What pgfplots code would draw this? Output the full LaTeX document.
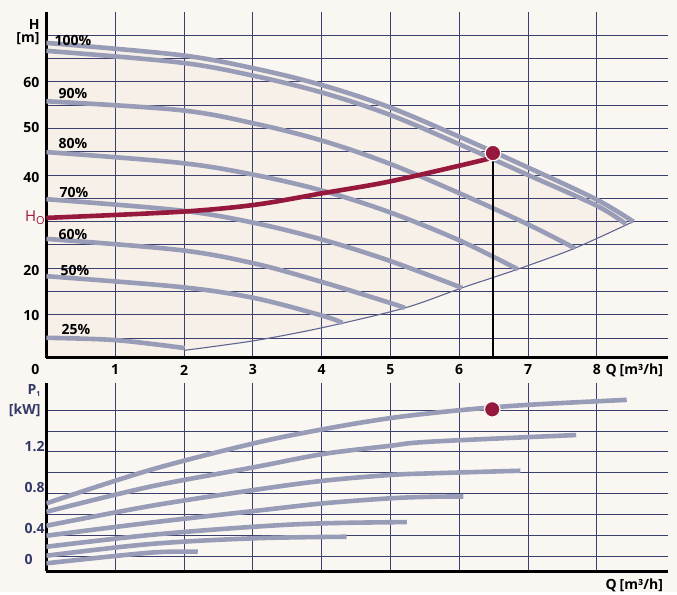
\documentclass[border=0pt]{standalone}
\usepackage{fontspec}
\setmainfont{Open Sans}
\usepackage{pgfplots}
\pgfplotsset{compat=1.18}
\definecolor{bgc}{RGB}{250,247,243}
\definecolor{regc}{RGB}{247,240,233}
\definecolor{crv}{RGB}{152,156,182}
\definecolor{grd}{RGB}{58,63,110}
\definecolor{hred}{RGB}{150,24,60}
\definecolor{navy}{RGB}{52,56,102}
\definecolor{sysc}{RGB}{95,100,145}
\newcommand{\tlab}{\fontsize{14}{16}\selectfont\bfseries}
\pgfplotsset{
  baseaxis/.style={
    anchor=south west,
    x=68.8pt,
    xmin=0, xmax=9.03,
  },
  topaxis/.style={baseaxis, at={(46.4pt,234pt)}, y=4.666pt, ymin=0.77, ymax=75},
  botaxis/.style={baseaxis, at={(46.4pt,21pt)}, y=104.1pt, ymin=0.056, ymax=1.86},
  pumpaxis/.style={
    axis x line=bottom, axis y line=left,
    axis line style={-, black, line width=3pt},
    xtick={1,2,3,4,5,6,7,8},
    xticklabels={}, yticklabels={},
    major tick length=0pt,
    grid=major, major grid style={grd, line width=0.9pt},
  },
  crvline/.style={crv, line width=4.6pt, smooth, tension=0.55},
}
\begin{document}
\begin{tikzpicture}[x=1pt,y=1pt]
\fill[bgc] (0,0) rectangle (677,592);
% ---------------- shaded operating region (below the grid) ----------------
\begin{axis}[topaxis, hide axis]
\addplot[fill=regc, draw=none] coordinates {
 (0,68.3) (1.94,65.7) (3.03,62.9) (4.02,59.3) (4.99,54.5) (6.0,48.2) (7.0,41.8) (7.66,37.5) (8.0,34.7) (8.53,30.0)
 (7.68,24.3) (6.85,19.8) (6.04,15.8) (5.21,11.5) (4.3,8.3) (4.02,7.3) (3.03,4.5) (2.0,2.4)
 (2.0,0.77) (0,0.77)} -- cycle;
\end{axis}
% ---------------- top chart: H over Q ----------------
\begin{axis}[topaxis, pumpaxis,
  ytick={5,10,15,20,25,30,35,40,45,50,55,60,65,70},
]
% system (minimum) curve
\addplot[sysc, line width=1.1pt, smooth] coordinates {
 (2.0,2.4) (3.03,4.5) (4.02,7.3) (5.21,11.5) (6.04,15.8) (6.85,19.8) (7.68,24.3) (8.53,30.0)};
% 100 % (two lines)
\addplot[crvline] coordinates {
 (0,68.3) (1.94,65.7) (3.03,62.8) (4.02,59.2) (4.99,54.5) (6.0,48.2) (7.0,41.6) (8.0,34.7) (8.53,30.0)};
\addplot[crvline] coordinates {
 (0,66.6) (1.94,64.1) (3.03,61.2) (4.02,57.6) (4.99,52.9) (6.0,46.6) (7.0,40.0) (8.0,33.4) (8.42,29.5)};
% 90 %
\addplot[crvline] coordinates {
 (0,55.8) (1.94,53.9) (3.03,51.0) (4.02,47.3) (4.99,42.4) (6.0,36.1) (7.0,29.4) (7.68,24.3)};
% 80 %
\addplot[crvline] coordinates {
 (0,44.9) (1.94,42.6) (3.03,40.0) (4.02,36.6) (4.99,32.0) (6.0,26.0) (6.85,19.8)};
% 70 %
\addplot[crvline] coordinates {
 (0,34.8) (1.94,32.4) (3.03,29.7) (4.02,26.1) (4.99,21.6) (6.04,15.8)};
% 60 %
\addplot[crvline] coordinates {
 (0,26.3) (1.94,23.9) (3.03,21.0) (4.02,17.0) (4.99,12.6) (5.21,11.5)};
% 50 %
\addplot[crvline] coordinates {
 (0,18.3) (1.94,16.0) (3.03,13.6) (4.02,9.8) (4.3,8.3)};
% 25 %
\addplot[crvline] coordinates {
 (0,5.1) (1.01,4.6) (2.01,2.9)};
% H_O curve
\addplot[hred, line width=4.6pt, smooth, tension=0.5] coordinates {
 (0,30.8) (1.94,32.1) (3.03,33.6) (4.02,36.1) (4.99,38.6) (6.35,43.2) (6.49,44.0)};
% drop line
\addplot[black, line width=1.2pt] coordinates {(6.49,44.7) (6.49,0.77)};
\addplot[only marks, mark=*, mark size=7.8pt, mark options={fill=hred, draw=bgc, line width=1.3pt}] coordinates {(6.49,44.7)};
\end{axis}
% ---------------- bottom chart: P1 over Q ----------------
\begin{axis}[botaxis, pumpaxis,
  ytick={0.2,0.4,0.6,0.8,1.0,1.2,1.4,1.6},
]
\addplot[crvline] coordinates {
 (0,0.706) (1.506,1.026) (3.0,1.28) (4.0,1.415) (5.0,1.525) (6.0,1.60) (7.0,1.652) (8.435,1.700)};
\addplot[crvline] coordinates {
 (0,0.625) (1.506,0.866) (3.013,1.052) (4.025,1.180) (4.99,1.258) (5.576,1.298) (7.70,1.362)};
\addplot[crvline] coordinates {
 (0,0.491) (1.506,0.680) (3.013,0.834) (4.025,0.923) (4.99,0.978) (5.576,0.994) (6.89,1.019)};
\addplot[crvline] coordinates {
 (0,0.395) (1.506,0.520) (3.013,0.632) (4.025,0.706) (4.99,0.754) (5.576,0.769) (6.06,0.772)};
\addplot[crvline] coordinates {
 (0,0.289) (1.506,0.402) (3.013,0.481) (4.025,0.514) (5.24,0.526)};
\addplot[crvline] coordinates {
 (0,0.203) (1.506,0.315) (3.013,0.370) (4.365,0.385)};
\addplot[crvline] coordinates {
 (0,0.130) (1.506,0.232) (2.2,0.241)};
\addplot[only marks, mark=*, mark size=7.8pt, mark options={fill=hred, draw=bgc, line width=1.3pt}] coordinates {(6.48,1.609)};
\end{axis}
% ---------------- labels ----------------
\begin{scope}[font=\tlab]
\node[anchor=east] at (43,567) {H};
\node[anchor=east] at (43,553) {[m]};
\node[anchor=east] at (43,510) {60};
\node[anchor=east] at (43,465) {50};
\node[anchor=east] at (43,415) {40};
\node[anchor=east] at (43,322) {20};
\node[anchor=east] at (43,277) {10};
\node[anchor=east] at (43,223) {0};
\foreach \q in {1,...,8} {\node at ({46.4+68.8*\q},222) {\q};}
\node[anchor=west] at (602,222) {Q\hspace{3pt}[m³/h]};
\node[anchor=west] at (51,552) {100\%};
\node[anchor=west] at (55,499) {90\%};
\node[anchor=west] at (55,449) {80\%};
\node[anchor=west] at (56,400) {70\%};
\node[anchor=west] at (55,358) {60\%};
\node[anchor=west] at (57,322) {50\%};
\node[anchor=west] at (58,262) {25\%};
\node[anchor=west] at (602,7) {Q\hspace{3pt}[m³/h]};
\end{scope}
\node[anchor=east, text=hred, inner sep=1pt] at (46,374) {\fontsize{15}{17}\selectfont H\raisebox{-3pt}{\fontsize{11}{12}\selectfont O}};
\begin{scope}[font=\tlab, text=navy]
\node[anchor=east] at (44,201) {P\raisebox{-2pt}{\fontsize{7}{8}\selectfont 1}};
\node[anchor=east] at (44,182) {[kW]};
\node[anchor=west] at (21,145) {1.2};
\node[anchor=west] at (21,104) {0.8};
\node[anchor=west] at (21,63) {0.4};
\node[anchor=west] at (21,33) {0};
\end{scope}
\end{tikzpicture}
\end{document}
